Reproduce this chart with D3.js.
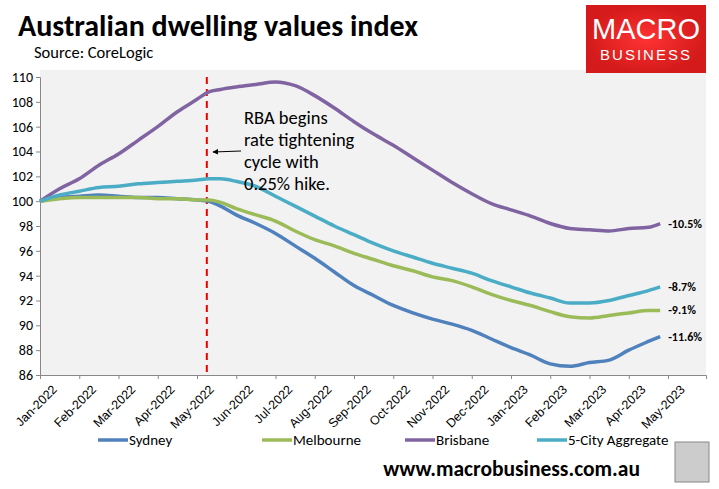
<!DOCTYPE html><html><head><meta charset="utf-8"><script src="https://cdn.jsdelivr.net/npm/d3@7"></script>
<style>body{margin:0;background:#fff;font-family:Calibri,Carlito,"Liberation Sans",Arial,sans-serif}</style></head><body><svg id="c" width="719" height="489"></svg>
<script>
const months=["Jan-2022","Feb-2022","Mar-2022","Apr-2022","May-2022","Jun-2022","Jul-2022","Aug-2022","Sep-2022","Oct-2022","Nov-2022","Dec-2022","Jan-2023","Feb-2023","Mar-2023","Apr-2023","May-2023"];
const yTicks=[86,88,90,92,94,96,98,100,102,104,106,108,110];
const t=[0,0.5,1,1.5,2,2.5,3,3.5,4,4.3,4.6,5,5.5,6,6.5,7,7.5,8,8.5,9,9.5,10,10.5,11,11.5,12,12.5,13,13.5,14,14.5,15,15.5,15.8];
const sydney=[100,100.3,100.4,100.5,100.4,100.3,100.3,100.2,100.1,100.0,99.6,98.9,98.2,97.4,96.4,95.4,94.3,93.2,92.4,91.6,91.0,90.5,90.1,89.6,88.9,88.2,87.6,86.9,86.7,87.0,87.2,88.0,88.7,89.1];
const melbourne=[100,100.2,100.3,100.3,100.3,100.3,100.2,100.2,100.1,100.1,99.9,99.4,98.9,98.4,97.6,96.9,96.4,95.8,95.3,94.8,94.4,93.9,93.6,93.1,92.5,92.0,91.6,91.1,90.7,90.6,90.8,91.0,91.2,91.2];
const brisbane=[100,101.0,101.8,102.9,103.8,104.9,106.0,107.2,108.2,108.8,109.0,109.2,109.4,109.6,109.3,108.5,107.5,106.4,105.4,104.5,103.5,102.5,101.5,100.6,99.8,99.3,98.8,98.2,97.8,97.7,97.6,97.8,97.9,98.2];
const agg=[100,100.5,100.8,101.1,101.2,101.4,101.5,101.6,101.7,101.8,101.8,101.6,101.2,100.4,99.6,98.8,98.0,97.3,96.6,96.0,95.5,95.0,94.6,94.2,93.6,93.1,92.6,92.2,91.8,91.8,92.0,92.4,92.8,93.1];
const series=[{n:"Sydney",v:sydney,c:"#4f81bd",l:"-11.6%"},{n:"Melbourne",v:melbourne,c:"#9bbb59",l:"-9.1%"},{n:"Brisbane",v:brisbane,c:"#8064a2",l:"-10.5%"},{n:"5-City Aggregate",v:agg,c:"#4bacc6",l:"-8.7%"}];
const svg=d3.select("#c");
const L=40,R=706,T=70,B=375;
const x=d3.scaleLinear().domain([0,16.97]).range([L,L+628*16.97/16]);
const y=d3.scaleLinear().domain([86,110]).range([B,77]);
svg.append("rect").attr("x",L).attr("y",T).attr("width",R-L).attr("height",B-T).attr("fill","#f2f2f2");
const ya=svg.append("g").attr("transform",`translate(${L},0)`).call(d3.axisLeft(y).tickValues(yTicks).tickSize(4).tickFormat(d3.format("d")));
ya.select(".domain").attr("stroke","#888");ya.selectAll("line").attr("stroke","#888");
ya.selectAll("text").attr("font-size",14).attr("fill","#000").attr("font-family","Calibri,Carlito,Liberation Sans,sans-serif");
const xa=svg.append("g").attr("transform",`translate(0,${B})`).call(d3.axisBottom(x).tickValues(d3.range(17)).tickSize(4).tickFormat(i=>months[i]));
xa.select(".domain").attr("stroke","#888");xa.selectAll("line").attr("stroke","#888");
xa.selectAll("text").attr("font-size",12.5).attr("fill","#000").attr("text-anchor","end").attr("transform","translate(6,4) rotate(-45)");
svg.append("line").attr("x1",x(4.25)).attr("x2",x(4.25)).attr("y1",y(110)).attr("y2",B).attr("stroke","#e00").attr("stroke-width",2).attr("stroke-dasharray","7,5");
const line=d3.line().x((d,i)=>x(t[i])).y(d=>y(d)).curve(d3.curveMonotoneX);
series.forEach(s=>{
 svg.append("path").attr("d",line(s.v)).attr("fill","none").attr("stroke",s.c).attr("stroke-width",3.5);
 svg.append("text").attr("x",x(t[t.length-1])+8).attr("y",y(s.v[s.v.length-1])+4).attr("font-size",12).attr("font-weight","bold").text(s.l);
});
const ann=["RBA begins","rate tightening","cycle with","0.25% hike."];
ann.forEach((a,i)=>svg.append("text").attr("x",244).attr("y",124+i*22).attr("font-size",18.5).text(a));
svg.append("defs").append("marker").attr("id","ar").attr("viewBox","0 0 10 10").attr("refX",9).attr("refY",5).attr("markerWidth",6).attr("markerHeight",6).attr("orient","auto").append("path").attr("d","M0,0L10,5L0,10z");
svg.append("line").attr("x1",241).attr("y1",151).attr("x2",213).attr("y2",152).attr("stroke","#000").attr("marker-end","url(#ar)");
svg.append("text").attr("x",18).attr("y",36).attr("font-size",30).attr("font-weight","bold").text("Australian dwelling values index");
svg.append("text").attr("x",34).attr("y",58).attr("font-size",16.5).text("Source: CoreLogic");
const lg=[[98,"Sydney"],[262,"Melbourne"],[405,"Brisbane"],[537,"5-City Aggregate"]];
lg.forEach((p,i)=>{svg.append("line").attr("x1",p[0]).attr("x2",p[0]+30).attr("y1",440).attr("y2",440).attr("stroke",series[i].c).attr("stroke-width",3.5);
 svg.append("text").attr("x",p[0]+31).attr("y",445).attr("font-size",15).text(p[1]);});
svg.append("text").attr("x",640).attr("y",476).attr("text-anchor","end").attr("font-size",21.5).attr("font-weight","bold").text("www.macrobusiness.com.au");
svg.append("rect").attr("x",675).attr("y",442).attr("width",34).attr("height",40).attr("fill","#ccc").attr("stroke","#888");
const g=svg.append("defs").append("radialGradient").attr("id","rg");g.append("stop").attr("offset","0").attr("stop-color","#f33");g.append("stop").attr("offset","1").attr("stop-color","#d41a1a");
svg.append("rect").attr("x",586).attr("y",5).attr("width",120).attr("height",68).attr("fill","url(#rg)");
svg.append("text").attr("x",646).attr("y",39).attr("text-anchor","middle").attr("fill","#fff").attr("font-size",29).attr("font-family","Liberation Sans,sans-serif").text("MACRO");
svg.append("text").attr("x",646).attr("y",60).attr("text-anchor","middle").attr("fill","#fff").attr("font-size",15).attr("letter-spacing",2).attr("font-family","Liberation Sans,sans-serif").text("BUSINESS");
</script></body></html>
